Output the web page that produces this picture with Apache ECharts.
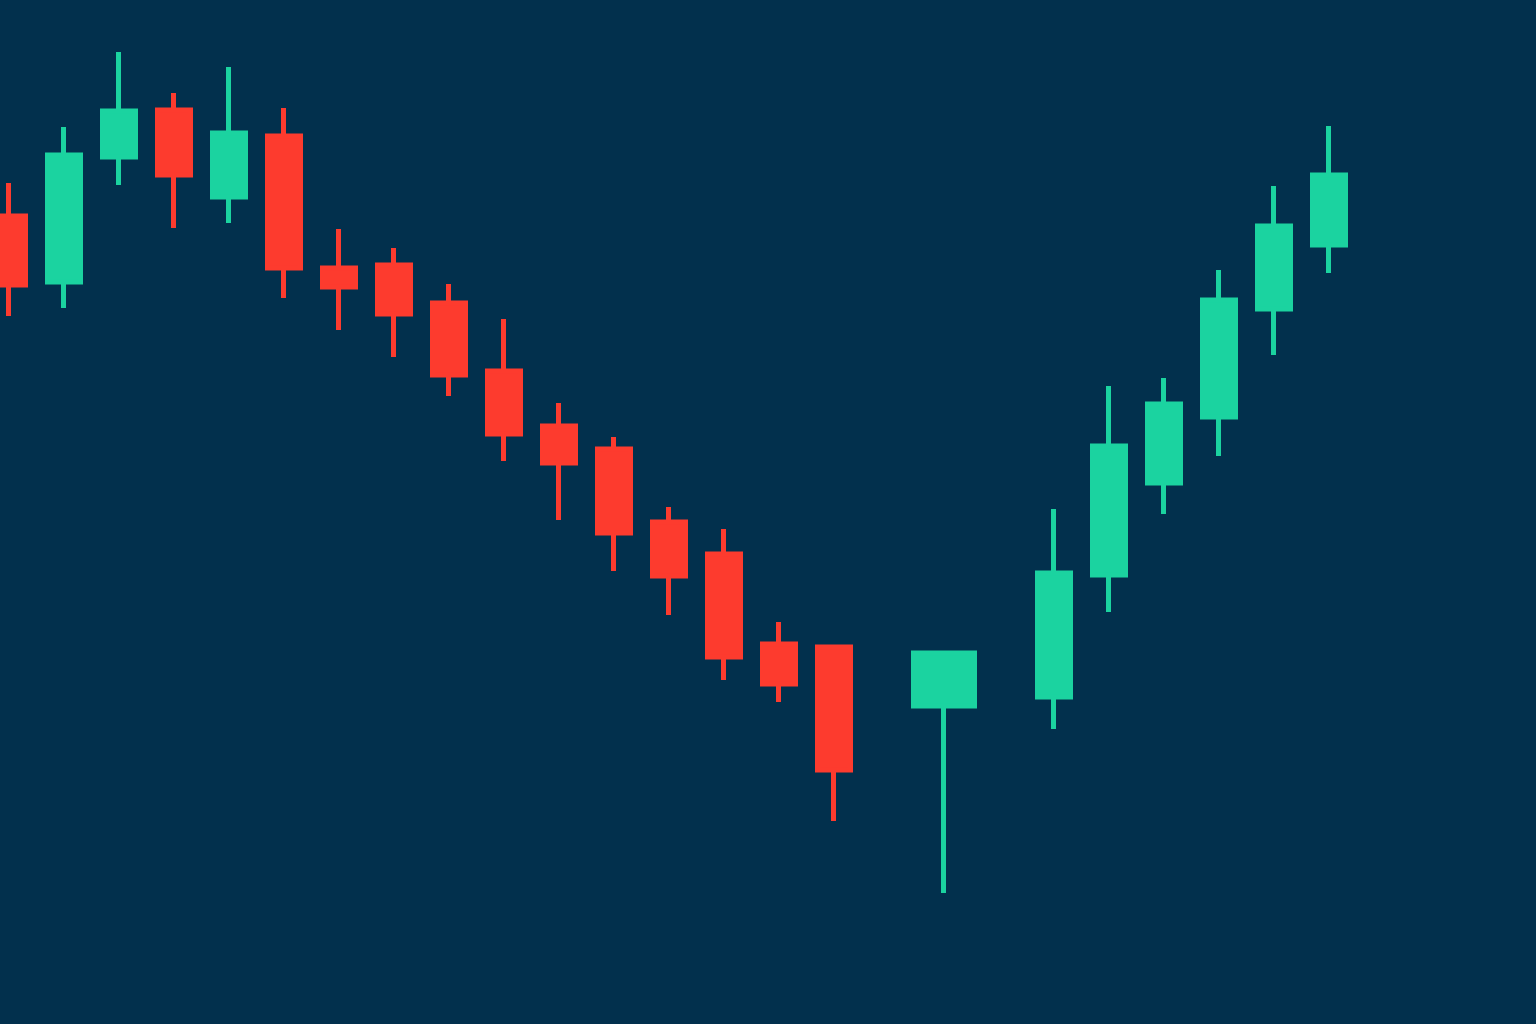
<!DOCTYPE html>
<html>
<head>
<meta charset="utf-8">
<title>Candlestick</title>
<script src="https://cdn.jsdelivr.net/npm/echarts@6/dist/echarts.min.js"></script>
<style>
    html, body { margin: 0; padding: 0; background: #02304d; }
    #chart { width: 1536px; height: 1024px; }
</style>
</head>
<body>
<div id="chart"></div>
<script>
// one slot per session, two sessions without a candle (null)
var days = ['1', '2', '3', '4', '5', '6', '7', '8', '9', '10', '11', '12', '13',
    '14', '15', '16', '17', '18', '19', '20', '21', '22', '23', '24', '25'];
var openPrices  = [80.8, 74.2, 86.7, 91.4, 82.7, 88.8, 75.6, 75.9, 72.1, 65.3, 59.8, 57.5, 50.2,
    47.0, 38.0, 37.7, null, 31.8, null, 32.7, 44.9, 54.1, 60.7, 71.5, 77.9];
var closePrices = [73.9, 86.9, 91.3, 84.9, 89.1, 75.6, 73.7, 71.0, 64.9, 59.0, 56.1, 49.1, 44.8,
    36.7, 34.0, 25.4, null, 37.1, null, 45.1, 57.8, 62.0, 72.4, 79.8, 84.9];
var lowPrices   = [70.8, 71.6, 83.9, 79.6, 80.1, 72.6, 69.4, 66.7, 62.8, 56.3, 50.4, 45.3, 40.9,
    34.4, 32.2, 20.3, null, 13.1, null, 29.5, 41.2, 51.0, 56.8, 66.9, 75.1];
var highPrices  = [84.1, 89.7, 97.2, 93.1, 95.7, 91.6, 79.5, 77.6, 74.0, 70.5, 62.1, 58.7, 51.7,
    49.5, 40.2, 37.7, null, 37.1, null, 51.5, 63.8, 64.6, 75.4, 83.8, 89.8];
var wideIndex = 17;

var upColor = '#1bd3a0';
var downColor = '#fd3b2e';

function ohlc(i) {
    if (openPrices[i] === null) return '-';
    return [openPrices[i], closePrices[i], lowPrices[i], highPrices[i]];
}

var candles = days.map(function (d, i) {
    return i === wideIndex ? '-' : ohlc(i);
});
var wideCandle = days.map(function (d, i) {
    return i === wideIndex ? ohlc(i) : '-';
});

var style = {
    color: upColor,
    color0: downColor,
    borderColor: upColor,
    borderColor0: downColor,
    borderWidth: 5
};

var myChart = echarts.init(document.getElementById('chart'));
var option = {
    backgroundColor: '#02304d',
    animation: false,
    grid: { left: 9, right: 207, top: 0, bottom: 0 },
    xAxis: {
        type: 'category',
        data: days,
        boundaryGap: false,
        show: false
    },
    yAxis: {
        type: 'value',
        min: 0,
        max: 102.4,
        show: false,
        splitLine: { show: false }
    },
    series: [{
        type: 'candlestick',
        data: candles,
        barWidth: 33,
        clip: false,
        itemStyle: style
    }, {
        type: 'candlestick',
        data: wideCandle,
        barWidth: 61,
        clip: false,
        itemStyle: style
    }]
};
myChart.setOption(option);
</script>
</body>
</html>
